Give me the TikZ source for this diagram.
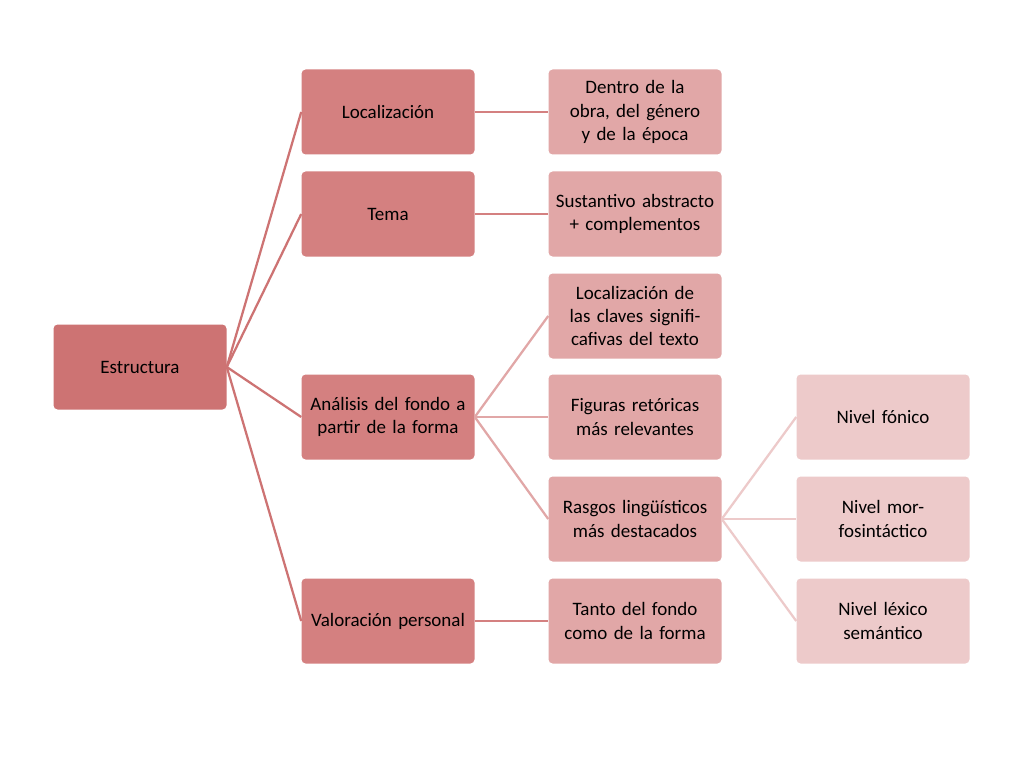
\documentclass[tikz,border=0pt]{standalone}
\usepackage{fontspec}
\setmainfont{Carlito}
\definecolor{rootc}{HTML}{CD7373}
\definecolor{onec}{HTML}{D48080}
\definecolor{twoc}{HTML}{E1A7A7}
\definecolor{threec}{HTML}{EDCACA}
\tikzset{
  box/.style={rounded corners=3pt, minimum width=173*0.025cm, minimum height=85*0.025cm,
    text width=165*0.025cm, align=center, inner sep=1pt,
    font=\fontsize{13.5}{16.5}\selectfont},
  link/.style={line width=1.6pt}
}
\begin{document}
\begin{tikzpicture}[x=0.025cm, y=-0.025cm]
        \useasboundingbox (0,0) rectangle (1024,768);
        \fill[white] (0,0) rectangle (1024,768);

        \node[box, fill=rootc] (est) at (140,367) {Estructura};

        \node[box, fill=onec] (loc) at (388,112) {Localización};
        \node[box, fill=onec] (tema) at (388,214) {Tema};
        \node[box, fill=onec] (ana) at (388,417) {Análisis del fondo a partir de la forma};
        \node[box, fill=onec] (val) at (388,621) {Valoración personal};

        \node[box, fill=twoc] (obra) at (635,112) {Dentro de la obra, del género y de la época};
        \node[box, fill=twoc] (sust) at (635,214) {Sustantivo abstracto + complementos};
        \node[box, fill=twoc] (claves) at (635,316) {Localización de las claves significafivas del texto};
        \node[box, fill=twoc] (fig) at (635,417) {Figuras retóricas más relevantes};
        \node[box, fill=twoc] (rasgos) at (635,519) {Rasgos lingüísticos más destacados};
        \node[box, fill=twoc] (tanto) at (635,621) {Tanto del fondo como de la forma};

        \node[box, fill=threec] (fon) at (883,417) {Nivel fónico};
        \node[box, fill=threec] (morf) at (883,519) {Nivel morfosintáctico};
        \node[box, fill=threec] (lex) at (883,621) {Nivel léxico semántico};

        % connectors
        \foreach \t in {loc,tema,ana,val}
            \draw[link, rootc] (est.east) -- (\t.west);
        \draw[link, onec] (loc.east) -- (obra.west);
        \draw[link, onec] (tema.east) -- (sust.west);
        \draw[link, onec] (val.east) -- (tanto.west);
        \foreach \t in {claves,fig,rasgos}
            \draw[link, twoc] (ana.east) -- (\t.west);
        \foreach \t in {fon,morf,lex}
            \draw[link, threec] (rasgos.east) -- (\t.west);
    \end{tikzpicture}
\end{document}
